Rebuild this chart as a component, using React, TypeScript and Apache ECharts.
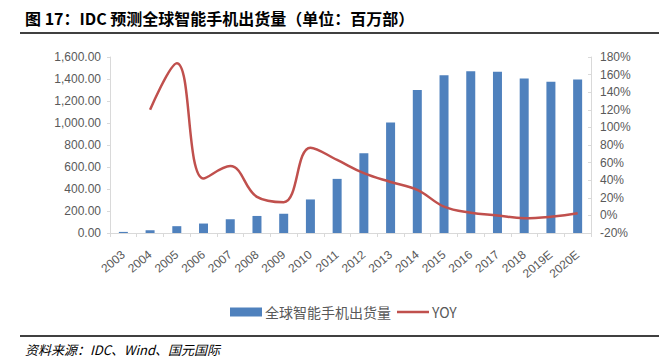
import React, { useEffect, useRef } from "react";
import * as echarts from "echarts";

const categories = ["2003", "2004", "2005", "2006", "2007", "2008", "2009", "2010", "2011", "2012", "2013", "2014", "2015", "2016", "2017", "2018", "2019E", "2020E"];
const shipments = [10, 25, 62, 86, 125, 155, 175, 305, 492, 725, 1005, 1301, 1433, 1470, 1465, 1405, 1375, 1395];
const yoy = [null, 120, 173, 42, 56, 21, 15, 77, 63, 48, 38, 29, 10, 3, 0, -3.3, -1.5, 2.4];
const leftTicks = { min: 0, max: 1600, interval: 200 };
const rightTicks = { min: -20, max: 180, interval: 20 };
const titleText = "图 17：IDC 预测全球智能手机出货量（单位：百万部）";
const sourceText = "资料来源：IDC、Wind、国元国际";
const barName = "全球智能手机出货量";
const lineName = "YOY";

const fmt = new Intl.NumberFormat("en-US", { minimumFractionDigits: 2, maximumFractionDigits: 2 });

export default function App() {
  const ref = useRef<HTMLDivElement>(null);
  useEffect(() => {
    document.body.style.margin = "0";
    const chart = echarts.init(ref.current!, null, { renderer: "svg" });
    const axisFont = "Liberation Sans, Arial, sans-serif";
    const cjk = "'Noto Sans CJK SC', sans-serif";
    chart.setOption({
      animation: false,
      backgroundColor: "#ffffff",
      grid: { left: 110, right: 68, top: 57, bottom: 129, containLabel: false },
      legend: {
        left: 225,
        top: 300,
        itemWidth: 32,
        itemHeight: 9,
        itemGap: 6,
        textStyle: { fontFamily: cjk, fontSize: 14, color: "#595959", padding: [0, 0, 0, -2] },
        data: [
          { name: barName, icon: "rect" },
          { name: lineName, icon: "path://M0,0L0.01,0L0.01,0Z M0,3.3L32,3.3L32,5.7L0,5.7Z M31.99,9L32,9L32,9Z" },
        ],
      },
      xAxis: {
        type: "category",
        data: categories,
        boundaryGap: true,
        axisLine: { show: true, lineStyle: { color: "#D9D9D9", width: 1 } },
        axisTick: { show: true, alignWithLabel: false, length: 4, lineStyle: { color: "#D9D9D9" } },
        axisLabel: { interval: 0, rotate: 40, fontSize: 12, color: "#595959", fontFamily: axisFont, margin: 20 },
        splitLine: { show: false },
      },
      yAxis: [
        {
          type: "value",
          min: leftTicks.min,
          max: leftTicks.max,
          interval: leftTicks.interval,
          axisLine: { show: true, lineStyle: { color: "#D9D9D9" } },
          axisTick: { show: true, length: 3, lineStyle: { color: "#D9D9D9" } },
          axisLabel: { formatter: (v: number) => fmt.format(v), fontSize: 12, color: "#595959", fontFamily: axisFont, margin: 9 },
          splitLine: { show: false },
        },
        {
          type: "value",
          min: rightTicks.min,
          max: rightTicks.max,
          interval: rightTicks.interval,
          axisLine: { show: true, lineStyle: { color: "#D9D9D9" } },
          axisTick: { show: true, inside: true, length: 3, lineStyle: { color: "#D9D9D9" } },
          axisLabel: { formatter: "{value}%", fontSize: 12, color: "#595959", fontFamily: axisFont, margin: 9 },
          splitLine: { show: false },
        },
      ],
      series: [
        {
          name: barName,
          type: "bar",
          data: shipments,
          barWidth: 9,
          itemStyle: { color: "#4F81BD" },
        },
        {
          name: lineName,
          type: "line",
          yAxisIndex: 1,
          data: yoy,
          smooth: 0.4,
          symbol: "none",
          connectNulls: false,
          lineStyle: { color: "#C0504D", width: 2.5 },
          itemStyle: { color: "#C0504D" },
        },
      ],
      graphic: [
        {
          type: "text",
          left: 25,
          top: 10,
          style: { text: titleText, font: `bold 16px ${cjk}`, fill: "#000000" },
        },
        {
          type: "line",
          shape: { x1: 20, y1: 33, x2: 659, y2: 33 },
          style: { stroke: "#000000", lineWidth: 1.5 },
        },
        {
          type: "line",
          shape: { x1: 20, y1: 336, x2: 659, y2: 336 },
          style: { stroke: "#000000", lineWidth: 1.5 },
        },
        {
          type: "text",
          left: 25,
          top: 343,
          style: { text: sourceText, font: `italic 13px ${cjk}`, fill: "#000000" },
        },
      ],
    });
    return () => chart.dispose();
  }, []);
  return <div ref={ref} style={{ width: 659, height: 362 }} />;
}
